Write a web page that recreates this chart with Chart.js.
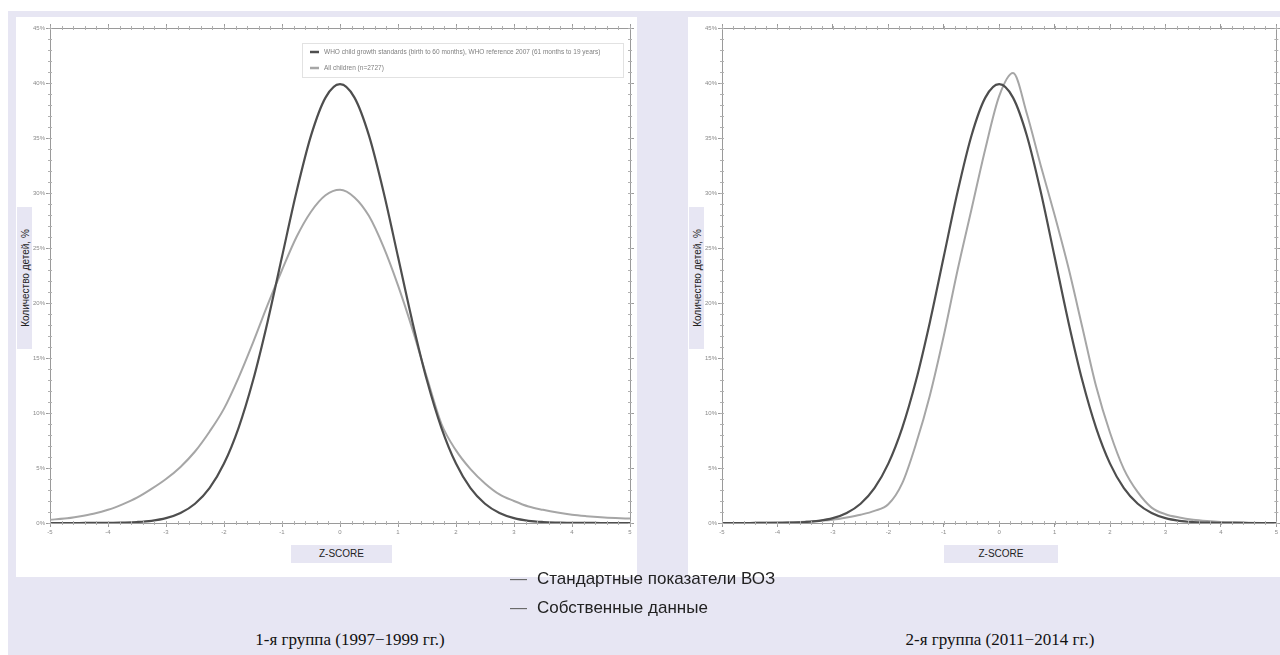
<!DOCTYPE html>
<html>
<head>
<meta charset="utf-8">
<script src="https://cdn.jsdelivr.net/npm/chart.js@4/dist/chart.umd.min.js"></script>
<style>
  body { margin: 0; width: 1280px; height: 655px; background: #fff; position: relative; overflow: hidden; font-family: "Liberation Sans", Arial, sans-serif; }
  #bg { position: absolute; left: 8px; top: 11px; right: 0; bottom: 0; background: #e7e6f3; }
  .panel { position: absolute; top: 17px; height: 560px; background: #fff; }
  .ytitle { position: absolute; background: #e7e6f3; width: 15px; height: 142px; top: 207px; }
  .ytitle span { position: absolute; left: 50%; top: 50%; transform: translate(-50%, -50%) rotate(-90deg); white-space: nowrap; font-size: 10px; color: #222; }
  .xtitle { position: absolute; top: 545px; height: 18px; line-height: 18px; background: #e7e6f3; text-align: center; font-size: 10px; color: #222; }
  .leg { position: absolute; left: 510px; font-size: 17px; color: #222; white-space: nowrap; }
  .leg b { font-weight: normal; color: #666; margin-right: 10px; }
  .group { position: absolute; top: 630px; font-family: "Liberation Serif", "Times New Roman", serif; font-size: 17px; color: #111; text-align: center; width: 400px; }
</style>
</head>
<body>
<div id="bg"></div>
<div class="panel" style="left:16px;width:621px;"><canvas id="left"></canvas></div>
<div class="panel" style="left:688px;width:592px;"><canvas id="right"></canvas></div>
<div class="ytitle" style="left:17px;"><span>Количество детей, %</span></div>
<div class="ytitle" style="left:689px;"><span>Количество детей, %</span></div>
<div class="xtitle" style="left:291px;width:101px;">Z-SCORE</div>
<div class="xtitle" style="left:944px;width:114px;">Z-SCORE</div>
<div class="leg" style="top:569px;"><b>—</b>Стандартные показатели ВОЗ</div>
<div class="leg" style="top:598px;"><b>—</b>Собственные данные</div>
<div class="group" style="left:150px;">1-я группа (1997−1999 гг.)</div>
<div class="group" style="left:800px;">2-я группа (2011−2014 гг.)</div>
<script>
// z-score grid shared by every curve
const zValues = [-5, -4.75, -4.5, -4.25, -4, -3.75, -3.5, -3.25, -3, -2.75, -2.5, -2.25, -2, -1.75, -1.5, -1.25, -1, -0.75, -0.5, -0.25,
  0, 0.25, 0.5, 0.75, 1, 1.25, 1.5, 1.75, 2, 2.25, 2.5, 2.75, 3, 3.25, 3.5, 3.75, 4, 4.25, 4.5, 4.75, 5];

// WHO standard curve, % of children
const whoValues = [0, 0, 0, 0.01, 0.01, 0.04, 0.09, 0.2, 0.44, 0.91, 1.75, 3.17, 5.4, 8.63, 12.95, 18.26, 24.2, 30.11, 35.21, 38.67,
  39.89, 38.67, 35.21, 30.11, 24.2, 18.26, 12.95, 8.63, 5.4, 3.17, 1.75, 0.91, 0.44, 0.2, 0.09, 0.04, 0.01, 0.01, 0, 0, 0];

// group 1 (1997-1999), own data
const group1Values = [0.3, 0.4, 0.6, 0.85, 1.2, 1.7, 2.3, 3.1, 4.0, 5.1, 6.5, 8.3, 10.4, 13.2, 16.4, 19.8, 23.0, 26.0, 28.3, 29.8,
  30.3, 29.6, 27.9, 25.1, 21.6, 17.6, 13.2, 9.0, 6.6, 4.9, 3.6, 2.6, 2.0, 1.5, 1.2, 0.95, 0.75, 0.62, 0.52, 0.45, 0.4];

// group 2 (2011-2014), own data
const group2Values = [0, 0, 0, 0.02, 0.04, 0.07, 0.12, 0.2, 0.3, 0.5, 0.75, 1.1, 1.7, 3.6, 7.2, 11.6, 17.0, 23.0, 28.5, 34.0,
  38.8, 40.9, 37.2, 32.5, 28.0, 23.2, 17.8, 12.4, 8.2, 4.9, 2.8, 1.4, 0.8, 0.5, 0.3, 0.18, 0.1, 0.06, 0.03, 0.01, 0];

const yTicks = [0, 5, 10, 15, 20, 25, 30, 35, 40, 45];
const seriesLabels = ['WHO child growth standards (birth to 60 months), WHO reference 2007 (61 months to 19 years)', 'All children (n=2727)'];

const darkLine = '#4e4e4e';
const lightLine = '#a6a6a6';
const axisColor = '#9a9a9a';
const tickFont = { family: 'Liberation Sans', size: 6 };

function points(values) {
  return zValues.map((z, i) => ({ x: z, y: values[i] }));
}

// small ticks between the labelled ones, on all four sides
const minorTicks = {
  id: 'minorTicks',
  afterDraw(chart) {
    const { ctx, chartArea: a, scales } = chart;
    ctx.save();
    ctx.strokeStyle = '#b0b0b0';
    ctx.lineWidth = 1;
    ctx.beginPath();
    for (let v = -5; v <= 5.001; v += 0.2) {
      const px = Math.round(scales.x.getPixelForValue(v)) + 0.5;
      ctx.moveTo(px, a.bottom - 2); ctx.lineTo(px, a.bottom + 2);
      ctx.moveTo(px, a.top - 2); ctx.lineTo(px, a.top + 2);
    }
    for (let v = 0; v <= 45; v += 1) {
      const py = Math.round(scales.y.getPixelForValue(v)) + 0.5;
      ctx.moveTo(a.left - 2, py); ctx.lineTo(a.left + 2, py);
      ctx.moveTo(a.right - 2, py); ctx.lineTo(a.right + 2, py);
    }
    ctx.stroke();
    ctx.restore();
  }
};

// boxed legend inside the plot area (left chart only)
const innerLegend = {
  id: 'innerLegend',
  afterDatasetsDraw(chart, args, opts) {
    if (!opts.show) return;
    const { ctx, chartArea: a } = chart;
    const w = 321, h = 34;
    const x0 = a.right - 7 - w, y0 = a.top + 15;
    ctx.save();
    ctx.fillStyle = '#fff';
    ctx.fillRect(x0, y0, w, h);
    ctx.strokeStyle = '#e2e2e2';
    ctx.strokeRect(x0 + 0.5, y0 + 0.5, w, h);
    ctx.font = '6.5px "Liberation Sans"';
    ctx.textBaseline = 'middle';
    chart.data.datasets.forEach((ds, i) => {
      const yy = y0 + 9 + i * 16;
      ctx.strokeStyle = ds.borderColor;
      ctx.lineWidth = 2.5;
      ctx.beginPath();
      ctx.moveTo(x0 + 8, yy); ctx.lineTo(x0 + 17, yy);
      ctx.stroke();
      ctx.fillStyle = '#808080';
      ctx.fillText(ds.label, x0 + 22, yy);
    });
    ctx.restore();
  }
};

function makeChart(id, ownValues, showLegend, rightWidth) {
  const gridOpts = { drawOnChartArea: false, color: axisColor, tickLength: 4 };
  return new Chart(document.getElementById(id), {
    type: 'line',
    data: {
      datasets: [
        { label: seriesLabels[0], data: points(whoValues), borderColor: darkLine, borderWidth: 2.2 },
        { label: seriesLabels[1], data: points(ownValues), borderColor: lightLine, borderWidth: 2 }
      ]
    },
    options: {
      responsive: true,
      maintainAspectRatio: false,
      animation: false,
      layout: { padding: 0 },
      elements: { point: { radius: 0 }, line: { cubicInterpolationMode: 'monotone' } },
      plugins: { legend: { display: false }, tooltip: { enabled: false }, innerLegend: { show: showLegend } },
      scales: {
        x: {
          type: 'linear', position: 'bottom', min: -5, max: 5,
          afterFit: s => { s.height = 54; },
          border: { color: axisColor, width: 1 },
          grid: gridOpts,
          ticks: { stepSize: 1, font: tickFont, color: '#8a8a8a', padding: 2, maxRotation: 0 }
        },
        x2: {
          type: 'linear', position: 'top', min: -5, max: 5,
          afterFit: s => { s.height = 11; },
          border: { color: axisColor, width: 1 },
          grid: gridOpts,
          ticks: { stepSize: 1, display: false }
        },
        y: {
          type: 'linear', position: 'left', min: 0, max: 45,
          afterFit: s => { s.width = 34; },
          afterBuildTicks: s => { s.ticks = yTicks.map(v => ({ value: v })); },
          border: { color: axisColor, width: 1 },
          grid: gridOpts,
          ticks: { font: tickFont, color: '#8a8a8a', padding: 1, callback: v => v + '%' }
        },
        y2: {
          type: 'linear', position: 'right', min: 0, max: 45,
          afterFit: s => { s.width = rightWidth; },
          afterBuildTicks: s => { s.ticks = yTicks.map(v => ({ value: v })); },
          border: { color: axisColor, width: 1 },
          grid: gridOpts,
          ticks: { display: false }
        }
      }
    },
    plugins: [minorTicks, innerLegend]
  });
}

makeChart('left', group1Values, true, 7);
makeChart('right', group2Values, false, 2);
</script>
</body>
</html>
